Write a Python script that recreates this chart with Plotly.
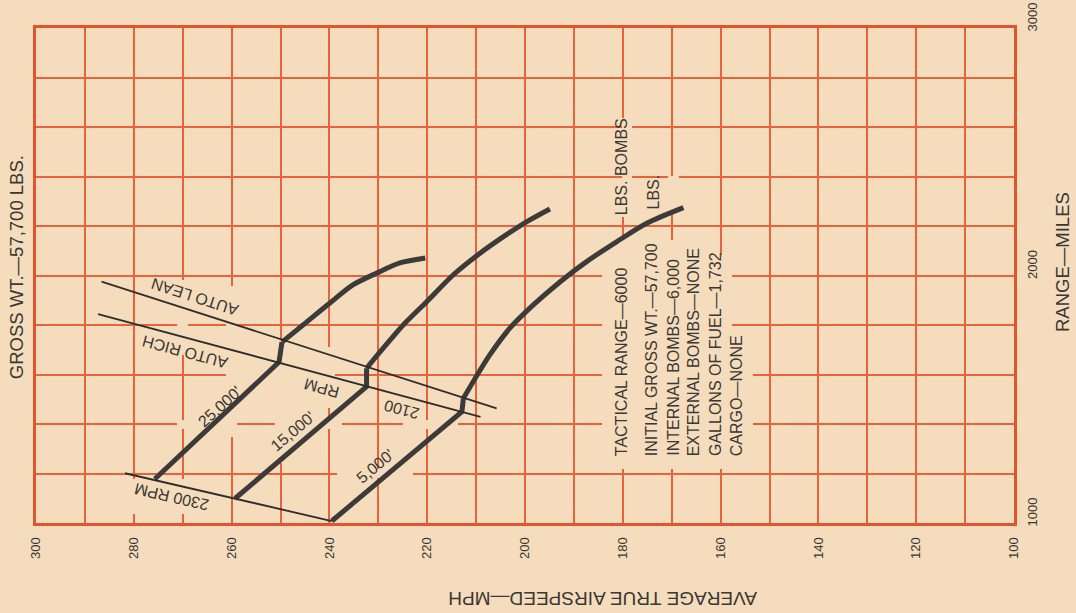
import plotly.graph_objects as go

# ---- values (mph, miles) ----
alt_25000_mph = [275.7, 250.3, 249.7, 245.4, 239.9, 235.2, 230.3, 225.6, 220.4]
alt_25000_miles = [1178, 1650, 1731, 1800, 1889, 1962, 2010, 2051, 2071]

alt_15000_mph = [259.3, 232.4, 232.4, 229.6, 224.9, 220.1, 214.7, 209.2, 204.4, 199.7, 194.9]
alt_15000_miles = [1099, 1551, 1625, 1692, 1800, 1894, 2002, 2090, 2157, 2217, 2269]

alt_5000_mph = [239.5, 212.9, 212.6, 210.6, 207.2, 203.1, 198.3, 192.8, 187.4, 181.2, 175.1, 167.6]
alt_5000_miles = [1008, 1450, 1504, 1571, 1679, 1787, 1881, 1975, 2056, 2137, 2211, 2274]

auto_lean_mph = [286.6, 205.8]
auto_lean_miles = [1975, 1463]
auto_rich_mph = [287.3, 209.1]
auto_rich_miles = [1844, 1429]
rpm_2300_mph = [281.8, 239.5]
rpm_2300_miles = [1201, 1008]

x_ticks = [300, 280, 260, 240, 220, 200, 180, 160, 140, 120, 100]
y_ticks = [1000, 2000, 3000]

info_lines = [
    "TACTICAL RANGE—6000",
    "INITIAL GROSS WT.—57,700",
    "INTERNAL BOMBS—6,000",
    "EXTERNAL BOMBS—NONE",
    "GALLONS OF FUEL—1,732",
    "CARGO—NONE",
]

# ---- look ----
W, H = 1076, 613
X0, X1, Y0, Y1 = 36, 1014, 28, 523  # plot area in pixels
BG = "#f4dcbc"
GRID = "#e8633c"
BORDER = "#e0552f"
INK = "#3a3734"
CURVE = "#3d3b39"
FONT = "Liberation Sans"


def px(x, y):
    """pixel position -> data coords"""
    return (300 - (x - X0) / (X1 - X0) * 200,
            1000 + (Y1 - y) / (Y1 - Y0) * 2000)


def paper(x, y):
    return (x - X0) / (X1 - X0), (Y1 - y) / (Y1 - Y0)


fig = go.Figure()

# thick altitude curves: straight run up to the mixture change, then a smooth arc
for xs, ys in [(alt_25000_mph, alt_25000_miles),
               (alt_15000_mph, alt_15000_miles),
               (alt_5000_mph, alt_5000_miles)]:
    fig.add_trace(go.Scatter(x=xs[:3], y=ys[:3], mode="lines",
                             line=dict(color=CURVE, width=5),
                             hoverinfo="skip", showlegend=False))
    fig.add_trace(go.Scatter(x=xs[2:], y=ys[2:], mode="lines",
                             line=dict(color=CURVE, width=5, shape="spline", smoothing=0.8),
                             hoverinfo="skip", showlegend=False))

for xs, ys in [(auto_lean_mph, auto_lean_miles),
               (auto_rich_mph, auto_rich_miles),
               (rpm_2300_mph, rpm_2300_miles)]:
    fig.add_trace(go.Scatter(x=xs, y=ys, mode="lines",
                             line=dict(color="#2f2d2b", width=1.8),
                             hoverinfo="skip", showlegend=False))

# gaps in the grid around the lettering
masks = [
    (177, 188, 280, 355), (226, 237, 286, 437), (275, 286, 340, 463),
    (324, 335, 347, 408), (227, 332, 371, 379), (177, 232, 420, 429),
    (278, 342, 420, 429), (403, 458, 420, 429), (337, 413, 469, 478),
    (128, 188, 479, 514), (602, 718, 240, 469), (718, 732, 255, 469),
    (732, 753, 370, 430), (622, 632, 118, 217), (668, 679, 176, 212),
]
for x0, x1, y0, y1 in masks:
    a, b = px(x0, y0)
    c, d = px(x1, y1)
    fig.add_shape(type="rect", x0=a, x1=c, y0=b, y1=d, layer="between",
                  fillcolor=BG, line=dict(width=0))


def label(text, x, y, angle, size=16, xa="center", ya="middle", ref="data"):
    if ref == "data":
        ax, ay = px(x, y)
        xr, yr = "x", "y"
    else:
        ax, ay = paper(x, y)
        xr, yr = "paper", "paper"
    fig.add_annotation(text=text, x=ax, y=ay, xref=xr, yref=yr,
                       textangle=angle, showarrow=False, xanchor=xa, yanchor=ya,
                       font=dict(family=FONT, size=size, color=INK))


label("AUTO LEAN", 195, 296.7, -162.2)
label("AUTO RICH", 185, 351.7, -165)
label("25,000'", 220, 406.7, -42)
label("15,000'", 292.7, 431.7, -40)
label("5,000'", 375, 466.7, -40)
label("RPM", 321.7, 388.3, -165)
label("2100", 401.7, 410, -165)
label("2300 RPM", 171.7, 496.7, -167)

cols = [621.7, 651.7, 673.3, 693.3, 715, 736.7]
for txt, cx in zip(info_lines, cols):
    label(txt, cx, 458, -90, ya="bottom")
label("LBS. BOMBS", 621.7, 217, -90, ya="bottom")
label("LBS.", 653, 212, -90, ya="bottom")

label("GROSS WT.—57,700 LBS.", 16.7, 267.5, -90, size=18.5, ref="paper")
label("RANGE—MILES", 1062, 262, -90, size=18.5, ref="paper")
label("AVERAGE TRUE AIRSPEED—MPH", 603, 599, 180, size=19, ref="paper")

fig.update_xaxes(range=[300, 100], tickvals=x_ticks, ticktext=[str(v) for v in x_ticks],
                 tickangle=-90, tickfont=dict(family=FONT, size=13, color=INK),
                 showgrid=True, gridcolor=GRID, gridwidth=2,
                 minor=dict(dtick=10, showgrid=True, gridcolor=GRID, gridwidth=2),
                 showline=True, mirror=True, linecolor=BORDER, linewidth=3,
                 zeroline=False, ticks="", ticklabelstandoff=6, automargin=False)
fig.update_yaxes(range=[1000, 3000], tickvals=y_ticks, ticktext=[str(v) for v in y_ticks],
                 side="right", tickangle=-90, tickfont=dict(family=FONT, size=13, color=INK),
                 showgrid=True, gridcolor=GRID, gridwidth=2,
                 minor=dict(dtick=200, showgrid=True, gridcolor=GRID, gridwidth=2),
                 showline=True, mirror=True, linecolor=BORDER, linewidth=3,
                 zeroline=False, ticks="", ticklabelstandoff=4, ticklabelshift=-9,
                 automargin=False)

fig.update_layout(width=W, height=H, paper_bgcolor=BG, plot_bgcolor=BG,
                  margin=dict(l=X0, r=W - X1, t=Y0, b=H - Y1),
                  showlegend=False, font=dict(family=FONT, color=INK))

fig.write_html("out.html", config={"displayModeBar": False},
               post_script="document.body.style.margin='0';"
                           "document.body.style.background='" + BG + "';")
